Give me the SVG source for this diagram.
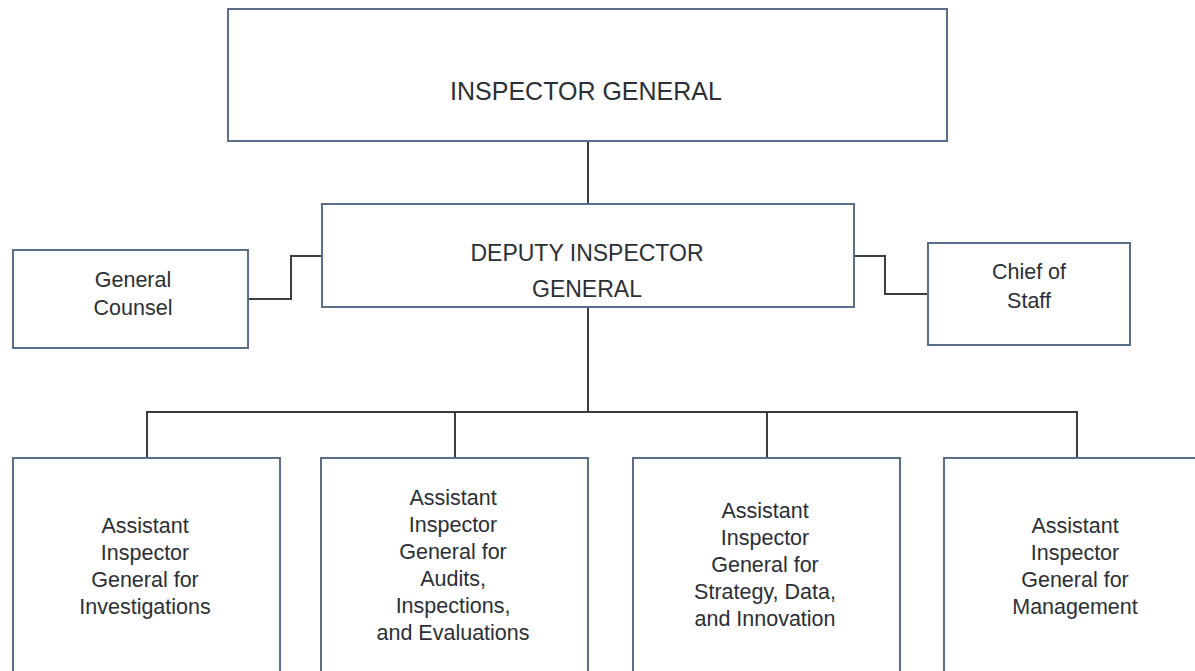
<svg xmlns="http://www.w3.org/2000/svg" width="1195" height="671" viewBox="0 0 1195 671">
<style>
.box{fill:#ffffff;stroke:#5a6e8c;stroke-width:2}
.con{fill:none;stroke:#3d3d3d;stroke-width:2}
text{font-family:"Liberation Sans",Arial,sans-serif;fill:#2b2f36;text-anchor:middle}
.big{font-size:25px}
.mid{font-size:23px}
.sm{font-size:21.5px}
</style>
<rect width="1195" height="671" fill="#ffffff"/>
<g id="connectors">
<path class="con" d="M588,141 V204"/>
<path class="con" d="M248,299 H291 V256 H322"/>
<path class="con" d="M854,256 H885 V294 H928"/>
<path class="con" d="M588,307 V412"/>
<path class="con" d="M147,458 V412 H1077 V458"/>
<path class="con" d="M455,412 V458"/>
<path class="con" d="M767,412 V458"/>
</g>
<g id="inspector-general">
<rect class="box" x="228" y="9" width="719" height="132"/>
<text class="big" x="586" y="100">INSPECTOR GENERAL</text>
</g>
<g id="deputy-inspector-general">
<rect class="box" x="322" y="204" width="532" height="103"/>
<text class="mid" x="587" y="261">DEPUTY INSPECTOR</text>
<text class="mid" x="587" y="297">GENERAL</text>
</g>
<g id="general-counsel">
<rect class="box" x="13" y="250" width="235" height="98"/>
<text class="sm" x="133" y="287">General</text>
<text class="sm" x="133" y="315">Counsel</text>
</g>
<g id="chief-of-staff">
<rect class="box" x="928" y="243" width="202" height="102"/>
<text class="sm" x="1029" y="279">Chief of</text>
<text class="sm" x="1029" y="308">Staff</text>
</g>
<g id="aig-investigations">
<rect class="box" x="13" y="458" width="267" height="230"/>
<text class="sm" x="145" y="533">Assistant</text>
<text class="sm" x="145" y="560">Inspector</text>
<text class="sm" x="145" y="587">General for</text>
<text class="sm" x="145" y="614">Investigations</text>
</g>
<g id="aig-audits">
<rect class="box" x="321" y="458" width="267" height="230"/>
<text class="sm" x="453" y="505">Assistant</text>
<text class="sm" x="453" y="532">Inspector</text>
<text class="sm" x="453" y="559">General for</text>
<text class="sm" x="453" y="586">Audits,</text>
<text class="sm" x="453" y="613">Inspections,</text>
<text class="sm" x="453" y="640">and Evaluations</text>
</g>
<g id="aig-strategy">
<rect class="box" x="633" y="458" width="267" height="230"/>
<text class="sm" x="765" y="518">Assistant</text>
<text class="sm" x="765" y="545">Inspector</text>
<text class="sm" x="765" y="572">General for</text>
<text class="sm" x="765" y="599">Strategy, Data,</text>
<text class="sm" x="765" y="626">and Innovation</text>
</g>
<g id="aig-management">
<rect class="box" x="944" y="458" width="267" height="230"/>
<text class="sm" x="1075" y="533">Assistant</text>
<text class="sm" x="1075" y="560">Inspector</text>
<text class="sm" x="1075" y="587">General for</text>
<text class="sm" x="1075" y="614">Management</text>
</g>
</svg>
